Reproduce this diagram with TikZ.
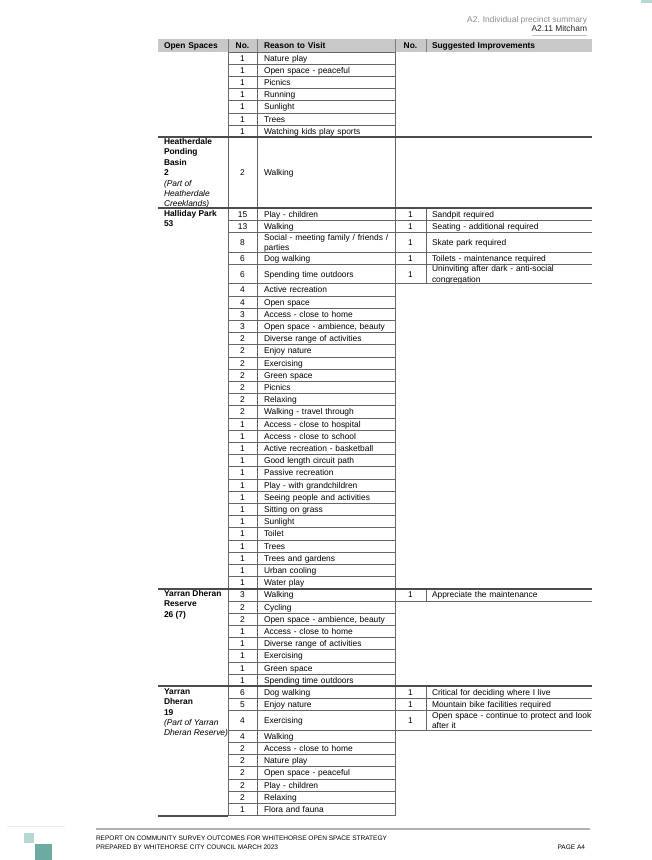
\documentclass[tikz,border=0pt]{standalone}
\usepackage{fontspec}
\setmainfont{Liberation Sans}
\usetikzlibrary{positioning}
\definecolor{lightteal}{RGB}{181,216,211}
\definecolor{darkteal}{RGB}{106,170,159}
\definecolor{hdrgray}{RGB}{200,200,200}
\newcommand{\bodyfont}{\fontsize{6.3}{7.8}\selectfont}
\begin{document}
\begin{tikzpicture}[x=0.75pt,y=-0.75pt,
    every node/.style={font=\bodyfont, inner sep=0pt, outer sep=0pt},
    cell/.style={draw=black!60, line width=0.6pt, text height=4.5pt, text depth=0pt},
    nocell/.style={cell, minimum width=21.75pt, align=center},
    reasoncell/.style={cell, text width=93pt, inner xsep=5.25pt, align=left},
    hdr/.style={fill=hdrgray, font=\bodyfont\bfseries, minimum height=9.75pt, text height=4.5pt, text depth=0pt},
    hdrline/.style={draw=black!50, line width=0.75pt},
    cellline/.style={draw=black!60, line width=0.6pt},
    groupline/.style={draw=black!70, line width=1.5pt},
    spacename/.style={anchor=north west, align=left, font=\bodyfont\bfseries},
    nosug/.style={text height=4.5pt, text depth=0pt},
    sugtext/.style={anchor=west, text width=124pt, inner xsep=4.5pt, align=left, text height=4.5pt},
    footer/.style={font=\fontsize{4.9}{5.9}\selectfont, text height=3.5pt, text depth=0pt}]
  \useasboundingbox (0,0) rectangle (652,860);
  \fill[lightteal] (641,0) rectangle (652,2.5);
  \node[anchor=east, text=black!45, text height=4.5pt, text depth=0pt] (sect) at (587,19) {A2. Individual precinct summary};
  \node[anchor=east, text=black!85, text height=4.5pt, text depth=0pt] (prec) at (587,28.5) {A2.11 Mitcham};
  \draw[black!25, line width=0.6pt] ([yshift=-3pt]prec.south west) -- ([yshift=-3pt]prec.south east);

  \node[hdr, text width=43.5pt, inner xsep=4.5pt, anchor=north west] (h0) at (158,39) {Open Spaces};
  \node[hdr, minimum width=21.75pt, right=0pt of h0] (n0) {No.};
  \node[hdr, text width=93pt, inner xsep=5.25pt, right=0pt of n0] (hr) {Reason to Visit};
  \node[hdr, minimum width=23.25pt, right=0pt of hr] (hn) {No.};
  \node[hdr, text width=115.5pt, inner xsep=4.5pt, right=0pt of hn] (hs) {Suggested Improvements};
  \foreach \c in {h0,n0,hr,hn}
    \draw[hdrline] (\c.north east) -- (\c.south east);

  \foreach \votes/\reason/\hh/\dd [count=\row, remember=\row as \prev (initially 0)] in {
      1/Nature play/9.15/0,
      1/Open space - peaceful/9.15/0,
      1/Picnics/9.15/0,
      1/Running/9.15/0,
      1/Sunlight/9.15/0,
      1/Trees/9.15/0,
      1/Watching kids play sports/9.15/0,
      2/Walking/53.25/0,
      15/Play - children/9.15/0,
      13/Walking/9.15/0,
      8/{\mbox{Social - meeting family / friends /}\\parties}/14.55/7.8,
      6/Dog walking/9.15/0,
      6/Spending time outdoors/14.55/0,
      4/Active recreation/9.15/0,
      4/Open space/9.15/0,
      3/Access - close to home/9.15/0,
      3/{\mbox{Open space - ambience, beauty}}/9.15/0,
      2/Diverse range of activities/9.15/0,
      2/Enjoy nature/9.15/0,
      2/Exercising/9.15/0,
      2/Green space/9.15/0,
      2/Picnics/9.15/0,
      2/Relaxing/9.15/0,
      2/Walking - travel through/9.15/0,
      1/Access - close to hospital/9.15/0,
      1/Access - close to school/9.15/0,
      1/Active recreation - basketball/9.15/0,
      1/Good length circuit path/9.15/0,
      1/Passive recreation/9.15/0,
      1/Play - with grandchildren/9.15/0,
      1/Seeing people and activities/9.15/0,
      1/Sitting on grass/9.15/0,
      1/Sunlight/9.15/0,
      1/Toilet/9.15/0,
      1/Trees/9.15/0,
      1/Trees and gardens/9.15/0,
      1/Urban cooling/9.15/0,
      1/Water play/9.15/0,
      3/Walking/9.15/0,
      2/Cycling/9.15/0,
      2/{\mbox{Open space - ambience, beauty}}/9.15/0,
      1/Access - close to home/9.15/0,
      1/Diverse range of activities/9.15/0,
      1/Exercising/9.15/0,
      1/Green space/9.15/0,
      1/Spending time outdoors/9.15/0,
      6/Dog walking/9.15/0,
      5/Enjoy nature/9.15/0,
      4/Exercising/14.55/0,
      4/Walking/9.15/0,
      2/Access - close to home/9.15/0,
      2/Nature play/9.15/0,
      2/Open space - peaceful/9.15/0,
      2/Play - children/9.15/0,
      2/Relaxing/9.15/0,
      1/Flora and fauna/9.15/0}
  {
    \node[nocell, minimum height=\hh pt, below=0pt of n\prev] (n\row) {\votes};
    \node[reasoncell, minimum height=\hh pt, text depth=\dd pt, right=0pt of n\row] (r\row) {\reason};
  }

  \coordinate (lft) at (158,0);
  \coordinate (rgt) at (592,0);
  \coordinate (snx) at (410.5,0);
  \coordinate (sx) at (426,0);
  \foreach \row/\votes/\sug/\dd in {
      9/1/Sandpit required/0,
      10/1/Seating - additional required/0,
      11/1/Skate park required/0,
      12/1/Toilets - maintenance required/0,
      13/1/{Uninviting after dark - anti-social\\congregation}/7.8,
      39/1/Appreciate the maintenance/0,
      47/1/Critical for deciding where I live/0,
      48/1/Mountain bike facilities required/0,
      49/1/{Open space - continue to protect and look\\after it}/7.8}
  {
    \node[nosug] (sn\row) at (r\row -| snx) {\votes};
    \node[sugtext, text depth=\dd pt] (s\row) at (r\row -| sx) {\sug};
    \draw[cellline] (r\row.north -| sx) -- (r\row.south -| sx);
    \draw[cellline] (r\row.south east) -- (r\row.south -| rgt);
  }

  \node[spacename] (heath) at (164,138.5) {Heatherdale\\Ponding\\Basin\\2\\{\mdseries\itshape (Part of}\\{\mdseries\itshape Heatherdale}\\{\mdseries\itshape Creeklands)}};
  \node[spacename] (halli) at (164,210) {Halliday Park\\53};
  \node[spacename] (ydres) at (164,590.5) {Yarran Dheran\\Reserve\\26 (7)};
  \node[spacename] (ydpart) at (164,688.5) {Yarran\\Dheran\\19\\{\mdseries\itshape (Part of Yarran}\\{\mdseries\itshape Dheran Reserve)}};

  \foreach \k in {7,8,38,46}
    \draw[groupline] (r\k.south -| lft) -- (r\k.south -| rgt);
  \draw[groupline] (n56.south -| lft) -- (n56.south west);

  \draw[black!8, line width=0.6pt] (7,826) -- (65,826);
  \fill[lightteal] (24,833) rectangle (34,843);
  \fill[darkteal] (34.5,843.5) rectangle (52,860);
  \draw[black!30, line width=1.5pt] (96,829) -- (590,829);
  \node[footer, anchor=west] (rep) at (96,838) {REPORT ON COMMUNITY SURVEY OUTCOMES FOR WHITEHORSE OPEN SPACE STRATEGY};
  \node[footer, anchor=west] (prep) at (96,847) {PREPARED BY WHITEHORSE CITY COUNCIL MARCH 2023};
  \node[footer, anchor=east] (page) at (585,847) {PAGE A4};
\end{tikzpicture}
\end{document}
